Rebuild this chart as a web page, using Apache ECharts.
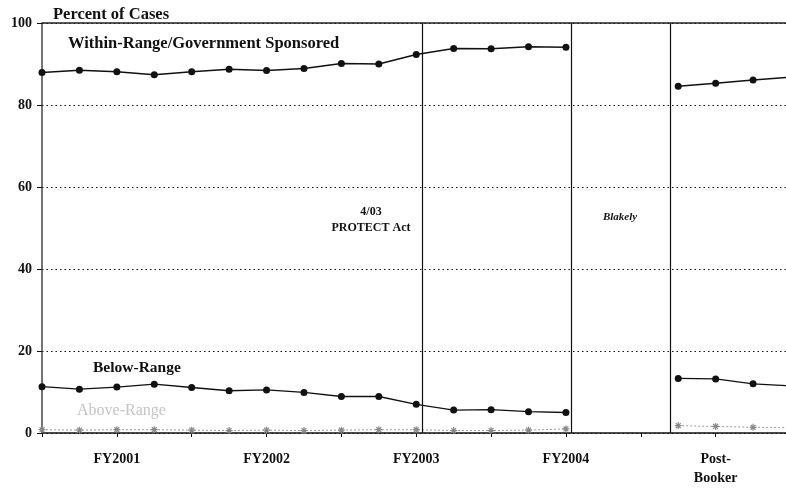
<!DOCTYPE html>
<html>
<head>
<meta charset="utf-8">
<script src="https://cdn.jsdelivr.net/npm/echarts@6/dist/echarts.min.js"></script>
<style>
  html, body { margin: 0; padding: 0; background: #fff; }
  #chart { width: 786px; height: 489px; }
</style>
</head>
<body>
<div id="chart"></div>
<script>
// quarter positions along x (0 = first quarter of FY2001)
const quarters = [0, 1, 2, 3, 4, 5, 6, 7, 8, 9, 10, 11, 12, 13, 14, 15, 16, 17, 18, 19, 20];
// null = no data (Blakely gap)
const withinRange = [87.9, 88.5, 88.1, 87.4, 88.1, 88.7, 88.4, 88.9, 90.1, 90.0, 92.3, 93.8, 93.7, 94.2, 94.1, null, null, 84.6, 85.3, 86.1, 86.8];
const belowRange = [11.3, 10.7, 11.2, 11.9, 11.1, 10.3, 10.5, 9.9, 8.9, 8.9, 7.0, 5.6, 5.7, 5.2, 5.0, null, null, 13.3, 13.2, 12.0, 11.5];
const aboveRange = [0.8, 0.7, 0.8, 0.8, 0.7, 0.6, 0.7, 0.6, 0.7, 0.8, 0.8, 0.6, 0.6, 0.7, 1.0, null, null, 1.8, 1.6, 1.4, 1.3];
const periodLabels = { 2: "FY2001", 6: "FY2002", 10: "FY2003", 14: "FY2004", 18: "Post-\nBooker" };
const eventLines = [10.15, 14.13, 16.8];
const yTicks = [0, 20, 40, 60, 80, 100];

const FONT = "Liberation Serif";

const toPairs = (vals) => quarters.map((q, i) => [q, vals[i] === null ? "-" : vals[i]]);

const chart = echarts.init(document.getElementById("chart"));

const option = {
  backgroundColor: "#fff",
  animation: false,
  grid: { left: 42, right: 0, top: 23, bottom: 56 },
  xAxis: {
    type: "value",
    min: 0,
    max: 19.88,
    interval: 2,
    axisLine: { lineStyle: { color: "#111", width: 1.5 } },
    axisTick: { show: true, length: 4, inside: false, lineStyle: { color: "#111" } },
    splitLine: { show: false },
    axisLabel: {
      margin: 17,
      color: "#111",
      fontFamily: FONT,
      fontWeight: "bold",
      fontSize: 14,
      lineHeight: 19,
      showMaxLabel: false,
      formatter: (v) => periodLabels[Math.round(v)] || ""
    }
  },
  yAxis: {
    type: "value",
    min: yTicks[0],
    max: yTicks[yTicks.length - 1],
    interval: 20,
    axisLine: { show: true, lineStyle: { color: "#444", width: 1.5 } },
    axisTick: { show: true, length: 5, lineStyle: { color: "#111" } },
    axisLabel: { margin: 10, color: "#111", fontFamily: FONT, fontWeight: "bold", fontSize: 14 },
    splitLine: { show: true, lineStyle: { color: "#111", type: [1.5, 3], width: 1 } }
  },
  series: [
    {
      name: "Within-Range/Government Sponsored",
      type: "line",
      data: toPairs(withinRange),
      connectNulls: false,
      symbol: "circle",
      symbolSize: 7,
      itemStyle: { color: "#111" },
      lineStyle: { color: "#111", width: 1.5 },
      markLine: {
        silent: true,
        symbol: "none",
        label: { show: false },
        lineStyle: { color: "#111", type: "solid", width: 1.2 },
        data: eventLines.map((x) => ({ xAxis: x })).concat([{ yAxis: 100, lineStyle: { width: 1.5, color: "#222" } }])
      }
    },
    {
      name: "Below-Range",
      type: "line",
      data: toPairs(belowRange),
      connectNulls: false,
      symbol: "circle",
      symbolSize: 7,
      itemStyle: { color: "#111" },
      lineStyle: { color: "#111", width: 1.3 }
    },
    {
      name: "Above-Range",
      type: "line",
      data: toPairs(aboveRange),
      connectNulls: false,
      symbol: "path://M5,0 L5,10 M0,5 L10,5 M1.5,1.5 L8.5,8.5 M8.5,1.5 L1.5,8.5",
      symbolSize: 7,
      itemStyle: { color: "#fff", borderColor: "#888", borderWidth: 1.2 },
      lineStyle: { color: "#999", width: 1, type: [2, 2] }
    }
  ],
  graphic: [
    { type: "text", left: 53, top: 6, style: { text: "Percent of Cases", font: "bold 16.5px " + FONT, fill: "#111" } },
    { type: "text", left: 68, top: 35, style: { text: "Within-Range/Government Sponsored", font: "bold 16.5px " + FONT, fill: "#111" } },
    { type: "text", left: 93, top: 360, style: { text: "Below-Range", font: "bold 15.5px " + FONT, fill: "#111" } },
    { type: "text", left: 77, top: 403, style: { text: "Above-Range", font: "16px " + FONT, fill: "#c4c4c4" } },
    { type: "text", x: 371, y: 204, style: { text: "4/03\nPROTECT Act", font: "bold 12px " + FONT, fill: "#111", align: "center", lineHeight: 16 } },
    { type: "text", x: 620, y: 212, style: { text: "Blakely", font: "italic bold 11px " + FONT, fill: "#111", align: "center" } }
  ]
};

chart.setOption(option);
</script>
</body>
</html>
